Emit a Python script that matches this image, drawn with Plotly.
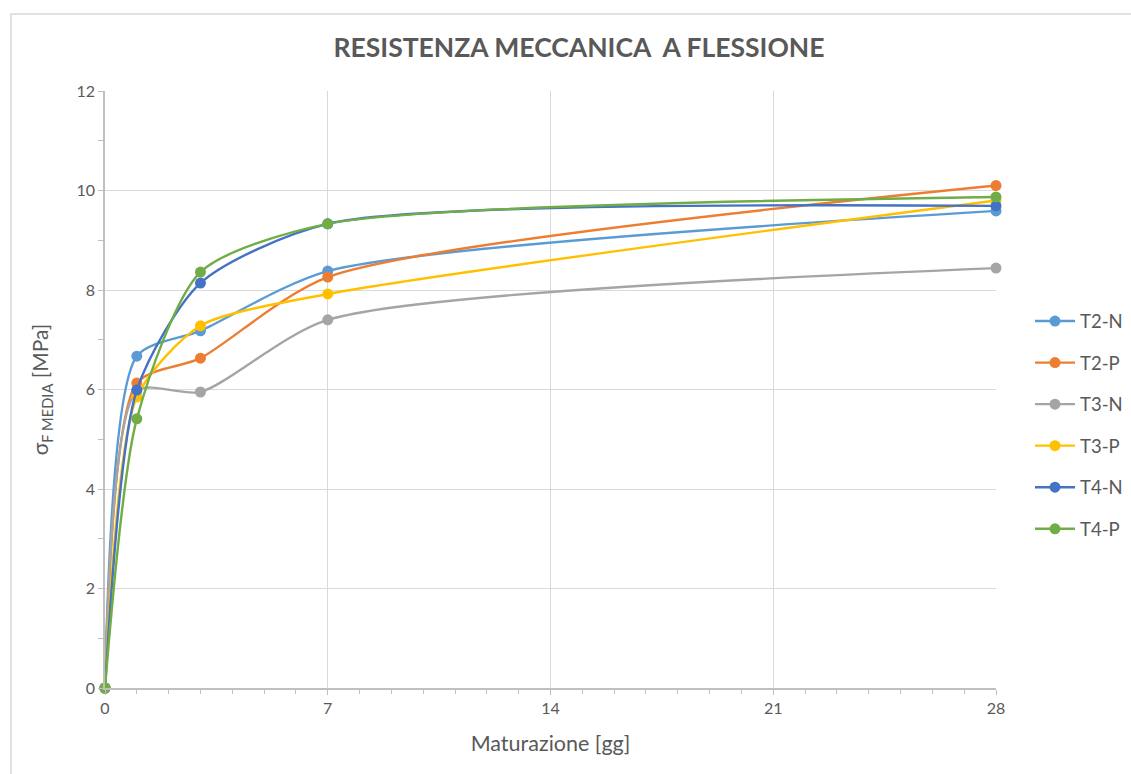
import plotly.graph_objects as go

# Curing age (days)
giorni = [0, 1, 3, 7, 28]

# Mean flexural strength [MPa] per mix
t2_n = [0, 6.67, 7.18, 8.38, 9.59]
t2_p = [0, 6.13, 6.63, 8.26, 10.10]
t3_n = [0, 5.97, 5.95, 7.40, 8.44]
t3_p = [0, 5.85, 7.28, 7.92, 9.80]
t4_n = [0, 5.99, 8.14, 9.33, 9.69]
t4_p = [0, 5.41, 8.36, 9.33, 9.87]

serie = [
    ("T2-N", t2_n, "#5B9BD5"),
    ("T2-P", t2_p, "#ED7D31"),
    ("T3-N", t3_n, "#A5A5A5"),
    ("T3-P", t3_p, "#FFC000"),
    ("T4-N", t4_n, "#4472C4"),
    ("T4-P", t4_p, "#70AD47"),
]

x_ticks = [0, 7, 14, 21, 28]

FONT = "Lato"
GREY = "#595959"
GRID = "#D9D9D9"

fig = go.Figure()
for nome, valori, colore in serie:
    fig.add_trace(go.Scatter(
        x=giorni, y=valori, name=nome, mode="lines+markers",
        line=dict(color=colore, width=2.4, shape="spline", smoothing=0.7),
        marker=dict(color=colore, size=11),
        cliponaxis=False,
        legendgroup=nome,
    ))

fig.update_layout(
    width=1131, height=774,
    margin=dict(l=105, r=135, t=91, b=86),
    paper_bgcolor="white", plot_bgcolor="white",
    font=dict(family=FONT, color=GREY, size=16),
    title=dict(
        text="<b>RESISTENZA MECCANICA  A FLESSIONE</b>",
        x=579 / 1131, xref="container", xanchor="center",
        y=1 - 48 / 774, yref="container", yanchor="middle",
        font=dict(family=FONT, size=26.5, color=GREY),
    ),
    showlegend=True,
    legend=dict(
        xref="container", yref="container",
        x=1030 / 1131, xanchor="left", y=1 - 425 / 774, yanchor="middle",
        font=dict(family=FONT, size=18.5, color=GREY),
        tracegroupgap=14.5, traceorder="grouped",
        itemwidth=40, bgcolor="rgba(0,0,0,0)",
    ),
    xaxis=dict(
        range=[0, 28], tickvals=x_ticks, showgrid=True, gridcolor=GRID, gridwidth=1,
        zeroline=False, showline=True, linecolor="#BFBFBF", linewidth=1.5,
        ticks="outside", ticklen=5, tickcolor="#BFBFBF",
        minor=dict(dtick=1, ticks="outside", ticklen=4, tickcolor="#BFBFBF", showgrid=False),
        tickfont=dict(size=16, color=GREY),
        title=dict(text="Maturazione [gg]", font=dict(size=21.5, color=GREY), standoff=20),
        automargin=False,
    ),
    yaxis=dict(
        range=[0, 12], dtick=2, showgrid=True, gridcolor=GRID, gridwidth=1,
        zeroline=False, showline=True, linecolor="#BFBFBF", linewidth=1.5,
        ticks="outside", ticklen=5, tickcolor="#BFBFBF",
        minor=dict(dtick=1, ticks="outside", ticklen=5, tickcolor="#BFBFBF", showgrid=False),
        tickfont=dict(size=16, color=GREY),
        title=dict(text="σ<sub>F MEDIA</sub> [MPa]", font=dict(size=21, color=GREY), standoff=22),
        automargin=False,
    ),
)

# Chart-area frame
fig.add_shape(
    type="rect", xref="paper", yref="paper",
    x0=(11 - 105) / 891, x1=(1140 - 105) / 891,
    y0=(688 - 790) / 597, y1=(688 - 14) / 597,
    line=dict(color="#D9D9D9", width=1.5), fillcolor="rgba(0,0,0,0)", layer="below",
)

fig.write_html("out.html")
